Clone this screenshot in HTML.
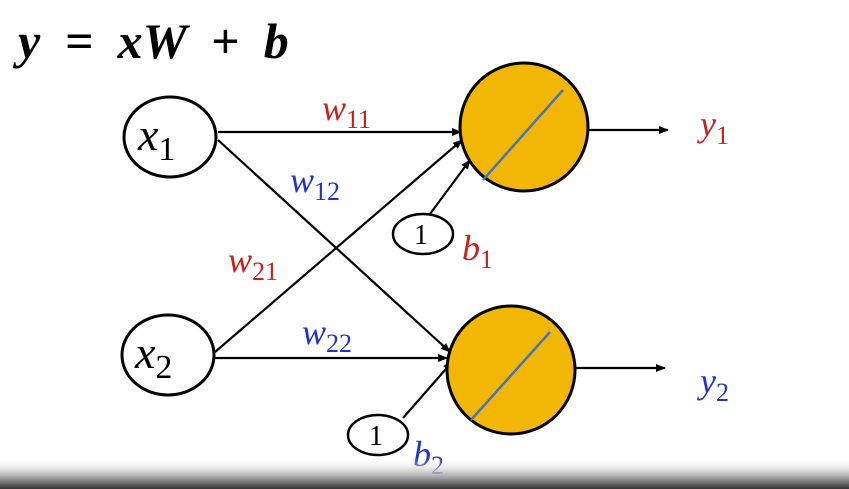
<!DOCTYPE html>
<html><head><meta charset="utf-8"><style>
html,body{margin:0;padding:0;background:#fff;}
svg{display:block;}
text{font-family:"Liberation Serif",serif;}
.it{font-style:italic;}
.up{font-style:normal;}
</style></head><body>
<svg width="849" height="489" viewBox="0 0 849 489">
<defs>
<marker id="ah" markerWidth="10" markerHeight="8" refX="9" refY="4" orient="auto" markerUnits="userSpaceOnUse">
<path d="M0,0 L10,4 L0,8 Z" fill="#000"/></marker>
<linearGradient id="bot" x1="0" y1="0" x2="0" y2="1">
<stop offset="0" stop-color="#fff" stop-opacity="0"/>
<stop offset="0.6" stop-color="#aaa"/>
<stop offset="1" stop-color="#333"/></linearGradient>
</defs>
<rect width="849" height="489" fill="#fff"/>
<text x="18" y="58" font-size="50" font-weight="bold" class="it" word-spacing="12">y = xW + b</text>

<g stroke="#000" stroke-width="2.2" fill="none" marker-end="url(#ah)">
<line x1="218" y1="132" x2="461" y2="132"/>
<line x1="218" y1="140" x2="450" y2="352"/>
<line x1="215" y1="352" x2="462" y2="140"/>
<line x1="215" y1="358" x2="447" y2="358"/>
<line x1="430" y1="214" x2="470" y2="160"/>
<line x1="403" y1="418" x2="452" y2="362"/>
<line x1="588" y1="130" x2="668" y2="130"/>
<line x1="575" y1="368" x2="665" y2="368"/>
</g>

<ellipse cx="170" cy="137" rx="46" ry="40" fill="#fff" stroke="#000" stroke-width="3"/>
<text x="138" y="150" font-size="46" class="it">x<tspan font-size="34" dy="10" class="up">1</tspan></text>
<ellipse cx="168" cy="355" rx="46" ry="40" fill="#fff" stroke="#000" stroke-width="3"/>
<text x="135" y="368" font-size="46" class="it">x<tspan font-size="34" dy="10" class="up">2</tspan></text>

<circle cx="524" cy="127" r="64" fill="#f2b705" stroke="#000" stroke-width="3"/>
<line x1="483" y1="180" x2="563" y2="90" stroke="#4a74b8" stroke-width="2.5"/>
<circle cx="511" cy="370" r="64" fill="#f2b705" stroke="#000" stroke-width="3"/>
<line x1="471" y1="420" x2="550" y2="332" stroke="#4a74b8" stroke-width="2.5"/>

<ellipse cx="423" cy="234" rx="30" ry="20" fill="#fff" stroke="#000" stroke-width="2.5"/>
<text x="414" y="244" font-size="28" font-family="Liberation Sans" class="up">1</text>
<ellipse cx="378" cy="435" rx="30" ry="20" fill="#fff" stroke="#000" stroke-width="2.5"/>
<text x="369" y="445" font-size="28" font-family="Liberation Sans" class="up">1</text>

<g font-size="36">
<text x="322" y="120" fill="#c8211e" class="it">w<tspan font-size="26" dy="8" class="up">11</tspan></text>
<text x="290" y="192" fill="#2233cc" class="it">w<tspan font-size="26" dy="8" class="up">12</tspan></text>
<text x="228" y="272" fill="#c8211e" class="it">w<tspan font-size="26" dy="8" class="up">21</tspan></text>
<text x="302" y="344" fill="#2233cc" class="it">w<tspan font-size="26" dy="8" class="up">22</tspan></text>
<text x="700" y="136" fill="#c8211e" class="it">y<tspan font-size="26" dy="8" class="up">1</tspan></text>
<text x="700" y="393" fill="#2233cc" class="it">y<tspan font-size="26" dy="8" class="up">2</tspan></text>
<text x="462" y="260" fill="#c8211e" class="it">b<tspan font-size="26" dy="8" class="up">1</tspan></text>
<text x="413" y="466" fill="#2233cc" class="it">b<tspan font-size="26" dy="8" class="up">2</tspan></text>
</g>

<rect x="0" y="458" width="849" height="31" fill="url(#bot)"/>
</svg>
</body></html>
